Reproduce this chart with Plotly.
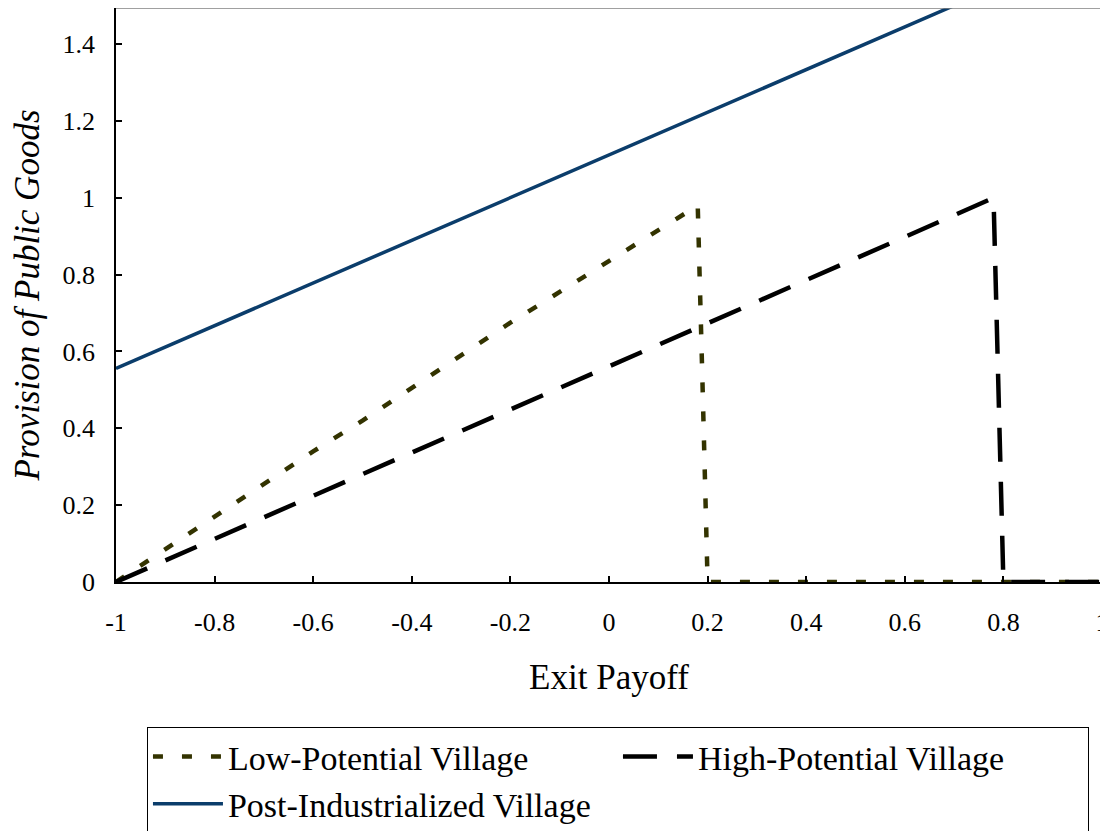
import plotly.graph_objects as go

# ---- data ----
low_x = [-1.0, -0.9, -0.8, -0.7, -0.6, -0.5, -0.4, -0.3, -0.2, -0.1, 0.0, 0.1, 0.18, 0.19, 0.2, 0.3, 0.4, 0.5, 0.6, 0.7, 0.8, 0.9, 1.0]
low_y = [0.0, 0.085, 0.17, 0.255, 0.34, 0.42, 0.505, 0.59, 0.675, 0.755, 0.835, 0.915, 0.98, 0.5, 0.0, 0.0, 0.0, 0.0, 0.0, 0.0, 0.0, 0.0, 0.0]

high_x = [-1.0, -0.8, -0.6, -0.4, -0.2, 0.0, 0.2, 0.4, 0.6, 0.78, 0.79, 0.8, 0.9, 1.0]
high_y = [0.0, 0.112, 0.225, 0.337, 0.45, 0.562, 0.673, 0.785, 0.898, 1.0, 0.5, 0.0, 0.0, 0.0]

post_x = [-1.0, -0.8, -0.6, -0.4, -0.2, 0.0, 0.2, 0.4, 0.6, 0.8, 1.0]
post_y = [0.556, 0.667, 0.778, 0.889, 1.0, 1.111, 1.222, 1.333, 1.444, 1.556, 1.667]

x_ticks = [-1.0, -0.8, -0.6, -0.4, -0.2, 0.0, 0.2, 0.4, 0.6, 0.8, 1.0]
x_ticktext = ["-1", "-0.8", "-0.6", "-0.4", "-0.2", "0", "0.2", "0.4", "0.6", "0.8", "1"]
y_ticks = [0.0, 0.2, 0.4, 0.6, 0.8, 1.0, 1.2, 1.4]
y_ticktext = ["0", "0.2", "0.4", "0.6", "0.8", "1", "1.2", "1.4"]

FONT = "Times New Roman"

fig = go.Figure()
fig.add_trace(go.Scatter(x=low_x, y=low_y, mode="lines", name="Low-Potential Village",
                         line=dict(color="#333300", width=4.5, dash="10px,19px")))
fig.add_trace(go.Scatter(x=high_x, y=high_y, mode="lines", name="High-Potential Village",
                         line=dict(color="#000000", width=4.5, dash="34px,20px")))
fig.add_trace(go.Scatter(x=post_x, y=post_y, mode="lines", name="Post-Industrialized Village",
                         line=dict(color="#0b3d6b", width=3.5)))

fig.update_layout(
    width=1108, height=831,
    margin=dict(l=108, r=14, t=0, b=257, autoexpand=False),
    paper_bgcolor="white", plot_bgcolor="white",
    font=dict(family=FONT, color="black", size=26),
    showlegend=True,
    legend=dict(orientation="h", x=0.0314, xanchor="left", y=-0.2526, yanchor="top",
                bordercolor="black", borderwidth=1, bgcolor="white",
                font=dict(family=FONT, size=34, color="black"),
                itemwidth=70,
                entrywidth=385, entrywidthmode="pixels", tracegroupgap=0),
    xaxis=dict(range=[-1, 1], tickmode="array", tickvals=x_ticks, ticktext=x_ticktext,
               ticks="inside", ticklen=6, tickwidth=1.5, tickcolor="black",
               showline=True, linecolor="black", linewidth=1.5, showgrid=False, zeroline=False,
               ticklabelstandoff=16,
               title=dict(text="Exit Payoff", font=dict(family=FONT, size=35), standoff=29)),
    yaxis=dict(range=[0, 1.494], tickmode="array", tickvals=y_ticks, ticktext=y_ticktext,
               ticks="inside", ticklen=6, tickwidth=1.5, tickcolor="black",
               showline=True, linecolor="black", linewidth=1.5, showgrid=False, zeroline=False,
               ticklabelstandoff=14,
               title=dict(text="<i>Provision of Public Goods</i>", font=dict(family=FONT, size=35), standoff=22)),
)

# gray top/right frame of the plot area
fig.add_shape(type="line", xref="paper", yref="paper", x0=0, x1=1, y0=1, y1=1,
              line=dict(color="#808080", width=1.5))
fig.add_shape(type="line", xref="paper", yref="paper", x0=1, x1=1, y0=0, y1=1,
              line=dict(color="#808080", width=1.5))

fig.write_html("out.html")
